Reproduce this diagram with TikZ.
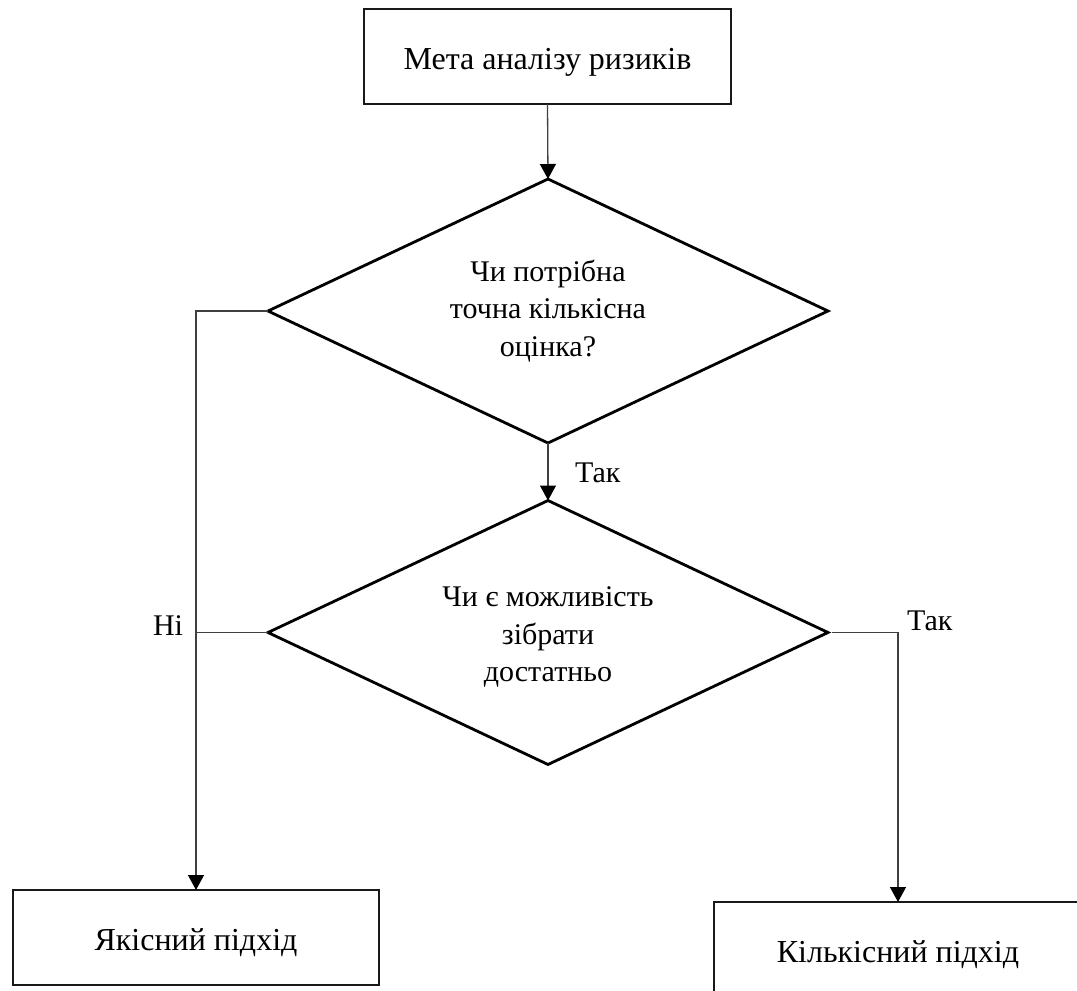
\documentclass[tikz,border=0pt]{standalone}
\usepackage{fontspec}
\setmainfont{Liberation Serif}
\usetikzlibrary{shapes.geometric,arrows.meta}
\begin{document}
\begin{tikzpicture}[x=1pt,y=-1pt,
  every node/.style={inner sep=0pt, outer sep=0pt},
  txt/.style={font=\fontsize{30}{37.5}\selectfont},
  box/.style={font=\fontsize{32}{38}\selectfont, draw=black!90, line width=1.3pt,
              minimum height=95pt, text height=26pt, text depth=0pt},
  decision/.style={draw=black, line width=2.8pt, diamond,
                   minimum width=560pt, minimum height=264pt},
  qtext/.style={txt, align=center},
  link/.style={draw=black!75, line width=1.3pt},
  flow/.style={link, -{Triangle[length=15pt,width=16pt,color=black]}},
]
  % page frame; the right-hand result box runs past it
  \clip (0,0) rectangle (1077,991);

  % boxes and decisions
  \node[box, minimum width=367pt] (goal) at (547.5,56.5) {Мета аналізу ризиків};
  \node[decision] (d1) at (548,311) {};
  \node[qtext] (q1) at (548,311) {Чи потрібна\\точна кількісна\\оцінка?};
  \node[decision] (d2) at (548,632.5) {};
  \node[qtext] (q2) at (548,637) {Чи є можливість\\зібрати\\достатньо};
  \node[box, minimum width=366pt] (qual) at (196,937.5) {Якісний підхід};
  \node[box, minimum width=368pt] (quant) at (898,949.5) {Кількісний підхід};

  % connectors
  \draw[flow] (goal.south) -- (d1.north);
  \draw[flow] (d1.south) -- (d2.north);
  \draw[flow] (d1.west) -- (d1.west -| qual.north) -- (qual.north);
  \draw[link] (d2.west) -- (d2.west -| qual.north);
  \draw[flow, shorten <=4pt] (d2.east) -- (d2.east -| quant.north) -- (quant.north);

  % branch labels
  \node[txt, anchor=base west] (yes1) at (575,482) {Так};
  \node[txt, anchor=base east] (no) at (183,635) {Ні};
  \node[txt, anchor=base west] (yes2) at (907,630) {Так};
\end{tikzpicture}
\end{document}
